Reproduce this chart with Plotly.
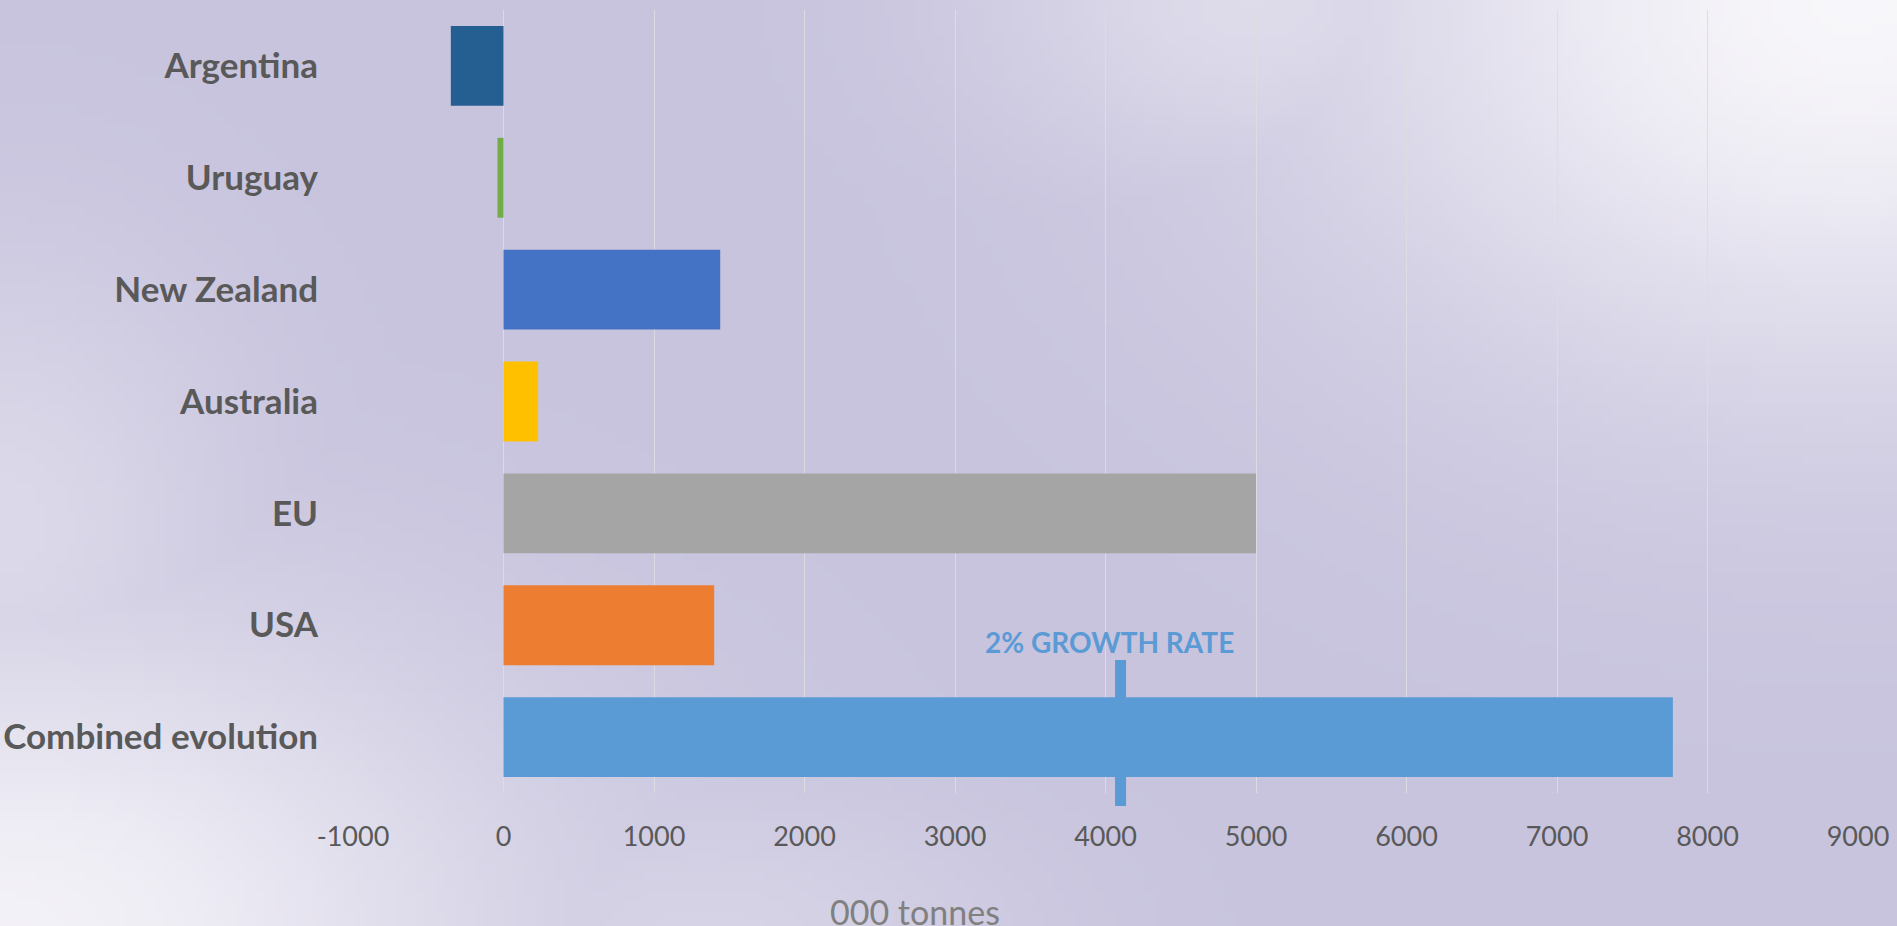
import base64
import struct
import zlib

import numpy as np
import plotly.graph_objects as go

# data (000 tonnes)
categories = ["Argentina", "Uruguay", "New Zealand", "Australia", "EU", "USA", "Combined evolution"]
values = [-350, -40, 1440, 230, 5000, 1400, 7770]
bar_colors = ["#255E91", "#70AD47", "#4472C4", "#FFC000", "#A5A5A5", "#ED7D31", "#5B9BD5"]
tick_vals = [-1000, 0, 1000, 2000, 3000, 4000, 5000, 6000, 7000, 8000, 9000]
tick_text = [str(v) for v in tick_vals]
growth_rate_x = 4100
growth_label = "2% GROWTH RATE"
x_title = "000 tonnes"

W, H = 1897, 926
ML, MR, MT, MB = 353, 39, 10, 133
PW, PH = W - ML - MR, H - MT - MB


def png_uri(rgb):
    h, w, _ = rgb.shape
    raw = b"".join(b"\x00" + rgb[i].tobytes() for i in range(h))

    def chunk(tag, data):
        c = struct.pack(">I", len(data)) + tag + data
        return c + struct.pack(">I", zlib.crc32(tag + data) & 0xffffffff)

    png = (b"\x89PNG\r\n\x1a\n"
           + chunk(b"IHDR", struct.pack(">IIBBBBB", w, h, 8, 2, 0, 0, 0))
           + chunk(b"IDAT", zlib.compress(raw))
           + chunk(b"IEND", b""))
    return "data:image/png;base64," + base64.b64encode(png).decode()


# soft lavender background with lighter patches
gw, gh = 190, 93
yy, xx = np.mgrid[0:gh, 0:gw].astype(float)
xx *= W / gw
yy *= H / gh
base = np.array([200, 196, 222], float)
light = np.array([249, 248, 251], float)
w = np.zeros((gh, gw))
for cx, cy, sx, sy, s in [(1850, 0, 520, 380, 0.97), (1250, 0, 280, 180, 0.45),
                          (0, 926, 520, 320, 0.88), (0, 520, 240, 280, 0.4),
                          (700, 926, 320, 150, 0.3)]:
    w = np.maximum(w, s * np.exp(-(((xx - cx) / sx) ** 2 + ((yy - cy) / sy) ** 2)))
bg = (base + (light - base) * w[..., None]).clip(0, 255).astype(np.uint8)

fig = go.Figure()
fig.add_trace(go.Bar(
    y=categories,
    x=values,
    orientation="h",
    marker=dict(color=bar_colors, line=dict(width=0)),
    showlegend=False,
))

# growth-rate marker
fig.add_shape(type="line", xref="x", yref="paper",
              x0=growth_rate_x, x1=growth_rate_x,
              y0=(PH - (806 - MT)) / PH, y1=(PH - (660 - MT)) / PH,
              line=dict(color="#5B9BD5", width=11), layer="above")
fig.add_annotation(x=growth_rate_x, xref="x", y=(H - MB - 642) / PH, yref="paper",
                   text="<b>" + growth_label + "</b>", showarrow=False,
                   xanchor="center", yanchor="middle", xshift=-11,
                   font=dict(family="Lato", size=28, color="#5B9BD5"))
fig.add_annotation(x=(915 - ML) / PW, xref="paper", y=(H - MB - 889) / PH, yref="paper",
                   text=x_title, showarrow=False, xanchor="center", yanchor="top",
                   font=dict(family="Lato", size=34, color="#808080"))

fig.add_layout_image(dict(source=png_uri(bg), xref="paper", yref="paper",
                          x=-ML / PW, y=1 + MT / PH, sizex=W / PW, sizey=H / PH,
                          xanchor="left", yanchor="top", sizing="stretch", layer="below"))

fig.update_layout(
    width=W, height=H,
    margin=dict(l=ML, r=MR, t=MT, b=MB),
    paper_bgcolor="rgb(200,196,222)",
    plot_bgcolor="rgba(0,0,0,0)",
    bargap=0.286,
    font=dict(family="Lato", color="#595959"),
    xaxis=dict(range=[-1000, 9000], tickvals=tick_vals, ticktext=tick_text, showgrid=True,
               gridcolor="rgba(220,220,224,0.95)", gridwidth=1, zeroline=False,
               showline=False, ticks="outside", ticklen=20, tickcolor="rgba(0,0,0,0)",
               automargin=False,
               tickfont=dict(family="Lato", size=27, color="#595959")),
    yaxis=dict(range=[6.5, -0.5], showgrid=False, zeroline=False, showline=False,
               ticks="outside", ticklen=27, tickcolor="rgba(0,0,0,0)",
               automargin=False,
               tickfont=dict(family="Lato", size=35, color="#595959", weight="bold")),
)

fig.write_html("out.html", config={"displayModeBar": False},
               post_script="document.body.style.margin='0';document.body.style.overflow='hidden';")
